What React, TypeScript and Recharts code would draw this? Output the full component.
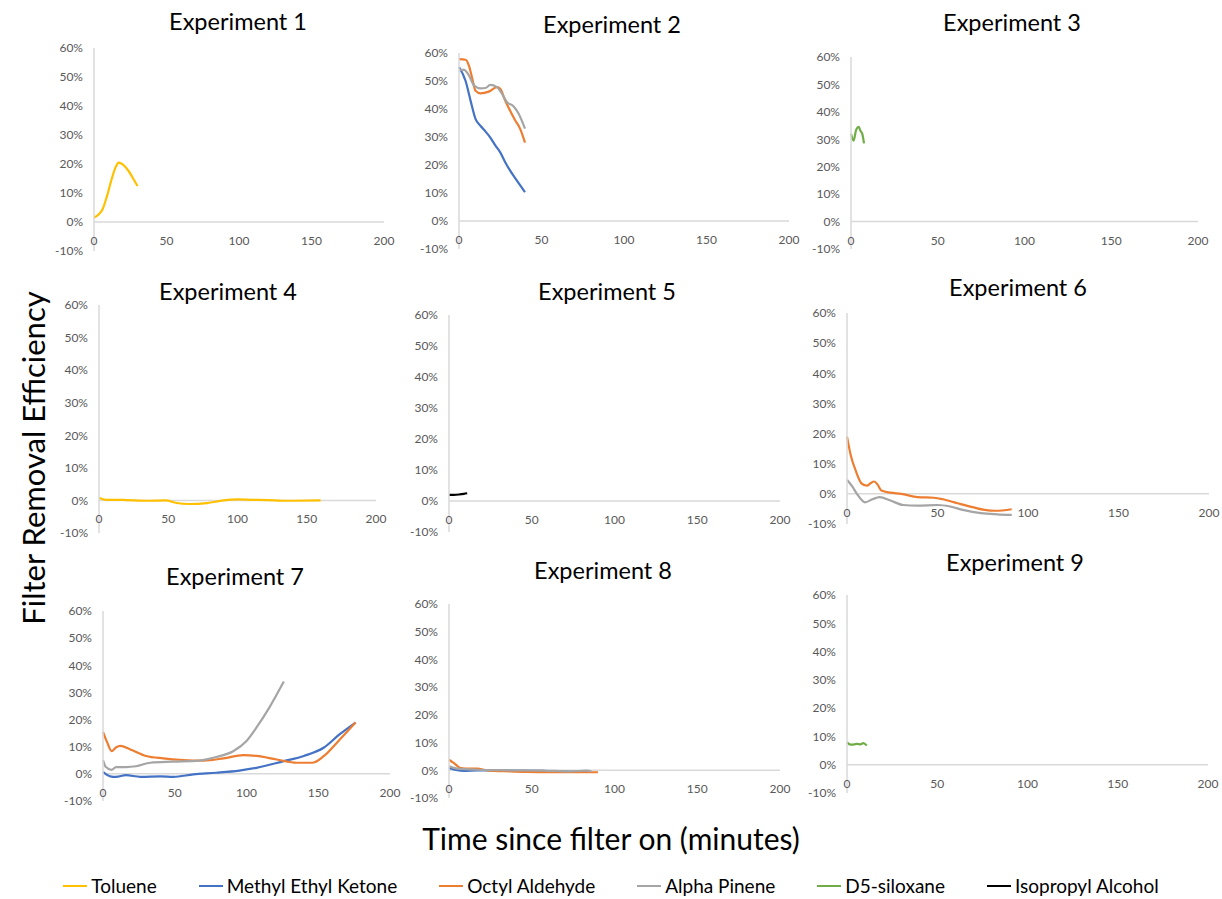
import React from 'react';
import { LineChart, Line, XAxis, YAxis, ReferenceLine } from 'recharts';

type Pt = [number, number];

const FONT = 'Lato, "Open Sans", sans-serif';

const xTicks = [0, 50, 100, 150, 200];
const yTicks = [-10, 0, 10, 20, 30, 40, 50, 60];

const seriesNames = ['Toluene', 'Methyl Ethyl Ketone', 'Octyl Aldehyde', 'Alpha Pinene', 'D5-siloxane', 'Isopropyl Alcohol'];
const seriesColors = ['#FFC000', '#4472C4', '#ED7D31', '#A5A5A5', '#70AD47', '#000000'];

// minutes, % removal
const exp1Toluene: Pt[] = [[0, 1.5], [3, 2.5], [6, 4.5], [9, 9], [12, 14.5], [15, 19], [17, 20.5], [20, 19.8], [24, 17.5], [27, 15], [30, 12.4]];

const exp2Mek: Pt[] = [[0, 55], [4, 50], [7, 43], [10, 36.5], [13, 34], [16, 32], [19, 29.8], [22, 27], [25, 24.5], [28, 21], [31, 18], [35, 14.5], [40, 10.3]];
const exp2Octyl: Pt[] = [[0, 57.8], [4, 57.6], [6, 55.5], [8, 51], [10, 46.5], [13, 45.6], [18, 46.2], [23, 47.8], [25, 47.2], [28, 43], [30, 40.5], [34, 36], [37, 33], [40, 28]];
const exp2Pinene: Pt[] = [[0, 54], [3, 54], [6, 52], [9, 48.5], [13, 47.4], [16, 47.5], [19, 48.6], [23, 47.8], [26, 45.5], [29, 42.5], [33, 41], [36, 38.5], [40, 33]];

const exp3D5: Pt[] = [[0, 32], [1.5, 29.5], [3, 33.5], [4.5, 34.5], [5.5, 33], [6.5, 32], [7.5, 28.5]];

const exp4Toluene: Pt[] = [[0, 0.8], [5, 0.2], [12, 0.2], [20, 0.1], [36, -0.1], [48, 0], [56, -0.8], [65, -1.1], [78, -0.8], [90, 0], [100, 0.3], [110, 0.2], [122, 0.1], [135, -0.1], [160, 0]];

const exp5Ipa: Pt[] = [[0, 2], [3, 2], [6, 2.1], [9, 2.3], [11, 2.5]];

const exp6Octyl: Pt[] = [[0, 19], [2, 13], [5, 7.4], [8, 3.5], [11, 2.7], [13, 3.5], [15, 4.1], [17, 3], [19, 1.1], [24, 0.4], [30, 0], [39, -1.1], [48, -1.3], [53, -1.8], [61, -3.1], [70, -4.5], [76, -5.3], [82, -5.6], [91, -5.1]];
const exp6Pinene: Pt[] = [[0, 4.7], [3, 2.4], [5.5, 0], [10, -2.8], [14, -1.8], [18, -1.1], [24, -2.2], [31, -3.7], [39, -3.9], [50, -3.7], [57, -4.2], [64, -5.3], [74, -6.4], [83, -6.8], [91, -7]];

const exp7Mek: Pt[] = [[0, 0.7], [5, -0.9], [9, -1.1], [16, -0.5], [26, -1.1], [40, -0.9], [49, -1.1], [63, -0.2], [79, 0.4], [95, 1.2], [107, 2.2], [126, 4.7], [140, 6.6], [154, 9.7], [165, 14.6], [176, 18.9]];
const exp7Octyl: Pt[] = [[0, 15.5], [3, 11.5], [6, 8.4], [9, 9.7], [12, 10.3], [19, 9], [30, 6.6], [42, 5.7], [56, 5.1], [70, 4.9], [84, 5.7], [98, 6.9], [107, 6.6], [121, 5.3], [135, 4.1], [146, 4.1], [154, 6.6], [163, 11.5], [176, 18.9]];
const exp7Pinene: Pt[] = [[0, 5.1], [2, 2.5], [6, 1.5], [9, 2.5], [16, 2.5], [23, 2.8], [33, 4.1], [49, 4.5], [67, 4.9], [79, 6.2], [91, 8.4], [100, 12.1], [107, 17.1], [116, 24.5], [126, 34]];

const exp8Mek: Pt[] = [[0, 0.8], [5, 0], [9, -0.2], [17, 0], [37, -0.1], [57, -0.2], [65, -0.5], [85, -0.6]];
const exp8Octyl: Pt[] = [[0, 3.8], [3, 2.6], [7, 0.8], [13, 0.6], [17, 0.6], [23, 0], [37, -0.4], [47, -0.6], [61, -0.7], [77, -0.7], [90, -0.7]];
const exp8Pinene: Pt[] = [[0, 1.4], [5, 0.6], [17, 0.2], [37, 0], [57, -0.1], [73, -0.4], [83, -0.1], [86, -0.4]];

const exp9D5: Pt[] = [[0, 7.9], [2, 7.1], [4, 7.2], [5.5, 7.4], [7.5, 7.2], [9, 7.6], [11, 6.8]];

const experimentTitles = ['Experiment 1', 'Experiment 2', 'Experiment 3', 'Experiment 4', 'Experiment 5', 'Experiment 6', 'Experiment 7', 'Experiment 8', 'Experiment 9'];

// series index (into seriesNames) + points, per experiment
const experimentSeries: [number, Pt[]][][] = [
  [[0, exp1Toluene]],
  [[1, exp2Mek], [2, exp2Octyl], [3, exp2Pinene]],
  [[4, exp3D5]],
  [[0, exp4Toluene]],
  [[5, exp5Ipa]],
  [[2, exp6Octyl], [3, exp6Pinene]],
  [[1, exp7Mek], [2, exp7Octyl], [3, exp7Pinene]],
  [[1, exp8Mek], [2, exp8Octyl], [3, exp8Pinene]],
  [[4, exp9D5]],
];

// plot boxes in page pixels: l = y axis, t = 60%, r = x 200, b = -10%; title centre
const panelBoxes = [
  { l: 94, t: 48, r: 384, b: 251, tx: 238, ty: 22 },
  { l: 459, t: 53, r: 789, b: 249, tx: 612, ty: 25 },
  { l: 851, t: 57, r: 1198, b: 249, tx: 1012, ty: 23 },
  { l: 99, t: 305, r: 376, b: 533, tx: 228, ty: 292 },
  { l: 449, t: 315, r: 780, b: 532, tx: 607, ty: 292 },
  { l: 847, t: 313, r: 1209, b: 524, tx: 1018, ty: 288 },
  { l: 103, t: 611, r: 390, b: 801, tx: 235, ty: 577 },
  { l: 449, t: 604, r: 780, b: 798, tx: 603, ty: 571 },
  { l: 847, t: 595, r: 1208, b: 793, tx: 1015, ty: 563 },
];

const toRows = (pts: Pt[]) => pts.map(([x, y]) => ({ x, y }));

function Panel({ idx }: { idx: number }) {
  const box = panelBoxes[idx];
  const mTop = 10, mRight = 22, mBottom = 10, yW = 52, xH = 20;
  const plotW = box.r - box.l;
  const plotH = box.b - box.t;
  // distance from the x axis band (plot bottom) up to the 0% line
  const zeroUp = plotH / 7;

  const xTick = (props: any) => (
    <text x={props.x} y={props.y - zeroUp + 23} textAnchor="middle" fontSize={12} fill="#595959" fontFamily={FONT}>
      {props.payload.value}
    </text>
  );

  return (
    <>
      <div
        style={{
          position: 'absolute',
          left: box.tx - 120,
          width: 240,
          top: box.ty - 16,
          lineHeight: '30px',
          textAlign: 'center',
          fontSize: 23.5,
          fontFamily: FONT,
          color: '#000',
        }}
      >
        {experimentTitles[idx]}
      </div>
      <div style={{ position: 'absolute', left: box.l - yW, top: box.t - mTop }}>
        <LineChart width={plotW + yW + mRight} height={plotH + mTop + mBottom + xH} margin={{ top: mTop, right: mRight, bottom: mBottom, left: 0 }}>
          <XAxis
            type="number"
            dataKey="x"
            domain={[0, 200]}
            ticks={xTicks}
            axisLine={false}
            tickLine={false}
            tickMargin={0}
            tickSize={0}
            height={xH}
            tick={xTick}
            interval={0}
          />
          <YAxis
            type="number"
            domain={[-10, 60]}
            ticks={yTicks}
            width={yW}
            interval={0}
            tickFormatter={(v: number) => `${v}%`}
            axisLine={{ stroke: '#d9d9d9', strokeWidth: 1.5 }}
            tickLine={false}
            tickMargin={5}
            tick={{ fontSize: 12, fill: '#595959', fontFamily: FONT }}
          />
          <ReferenceLine y={0} stroke="#d9d9d9" strokeWidth={1.5} />
          {experimentSeries[idx].map(([s, pts]) => (
            <Line
              key={s}
              data={toRows(pts)}
              dataKey="y"
              type="monotone"
              stroke={seriesColors[s]}
              strokeWidth={2.2}
              dot={false}
              isAnimationActive={false}
            />
          ))}
        </LineChart>
      </div>
    </>
  );
}

export default function App() {
  return (
    <div style={{ position: 'absolute', left: 0, top: 0, width: 1222, height: 899, background: '#fff', fontFamily: FONT }}>
      {panelBoxes.map((_, i) => (
        <Panel key={i} idx={i} />
      ))}

      <svg style={{ position: 'absolute', left: 0, top: 0 }} width={70} height={899}>
        <text
          transform="translate(45, 458) rotate(-90)"
          textAnchor="middle"
          fontSize={31}
          fontFamily={FONT}
          fill="#000"
        >
          Filter Removal Efficiency
        </text>
      </svg>

      <div
        style={{
          position: 'absolute',
          left: 0,
          width: 1222,
          top: 818,
          lineHeight: '40px',
          textAlign: 'center',
          fontSize: 30,
          color: '#000',
        }}
      >
        Time since filter on (minutes)
      </div>

      <div
        style={{
          position: 'absolute',
          left: 0,
          width: 1222,
          top: 873,
          display: 'flex',
          justifyContent: 'center',
          gap: 42,
          fontSize: 19,
          lineHeight: '26px',
          color: '#000',
        }}
      >
        {seriesNames.map((n, i) => (
          <div key={n} style={{ display: 'flex', alignItems: 'center', gap: 4 }}>
            <span style={{ display: 'inline-block', width: 24, height: 2.5, background: seriesColors[i] }} />
            <span>{n}</span>
          </div>
        ))}
      </div>
    </div>
  );
}
